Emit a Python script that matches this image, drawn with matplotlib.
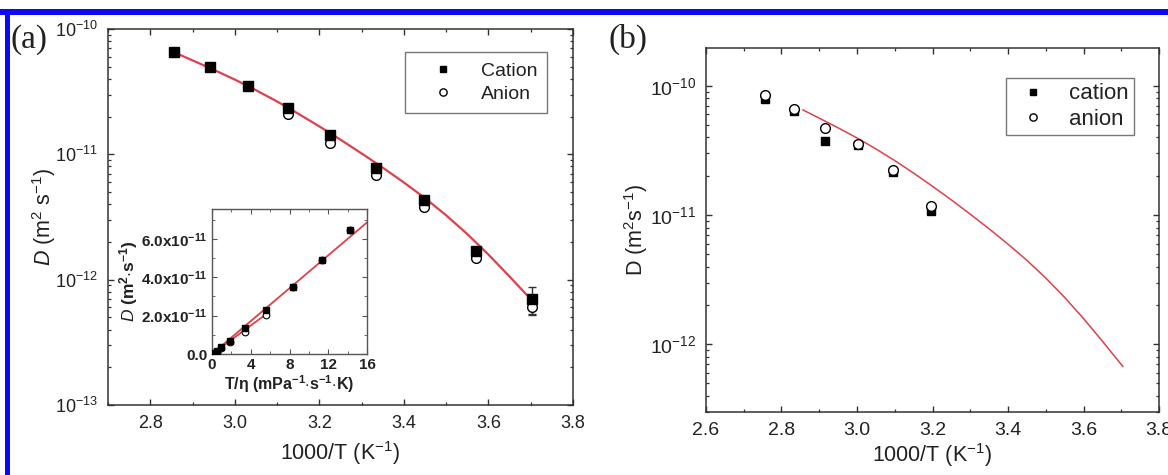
import matplotlib
matplotlib.use("Agg")
import matplotlib.pyplot as plt
from matplotlib.patches import Rectangle
from matplotlib.ticker import LogLocator, MultipleLocator, NullFormatter, FixedLocator, FixedFormatter

plt.rcParams['font.family'] = ['Liberation Sans', 'DejaVu Sans']
plt.rcParams['mathtext.fontset'] = 'custom'
plt.rcParams['mathtext.rm'] = 'Liberation Sans'
plt.rcParams['mathtext.it'] = 'Liberation Sans:italic'
plt.rcParams['mathtext.bf'] = 'Liberation Sans:bold'

# ---------------- data: panel (a) ----------------
a_x = [2.857, 2.941, 3.030, 3.125, 3.226, 3.333, 3.448, 3.571, 3.704]
a_cation = [6.50e-11, 4.96e-11, 3.53e-11, 2.36e-11, 1.42e-11, 7.82e-12, 4.33e-12, 1.70e-12, 7.05e-13]
a_anion = [6.50e-11, 4.96e-11, 3.53e-11, 2.11e-11, 1.23e-11, 6.82e-12, 3.78e-12, 1.50e-12, 6.08e-13]
a_cation_err = [0, 0, 0, 0, 0, 0, 0, 0, 1.68e-13]
a_anion_err = [0, 0, 0, 0, 0, 0, 0, 0, 0.81e-13]

# fitted curve
fit_x = [2.857, 2.90, 2.95, 3.00, 3.05, 3.10, 3.15, 3.20, 3.25, 3.30, 3.35,
         3.40, 3.45, 3.50, 3.55, 3.60, 3.65, 3.704]
fit_D = [6.50e-11, 5.62e-11, 4.73e-11, 3.95e-11, 3.25e-11, 2.64e-11, 2.11e-11, 1.67e-11,
         1.31e-11, 1.016e-11, 7.83e-12, 5.96e-12, 4.47e-12, 3.26e-12, 2.31e-12,
         1.585e-12, 1.059e-12, 6.76e-13]

# inset: D vs T/eta
ins_x = [14.24, 11.34, 8.31, 5.55, 3.38, 1.86, 0.93, 0.48, 0.24]
ins_cation = [6.44e-11, 4.89e-11, 3.50e-11, 2.31e-11, 1.37e-11, 6.9e-12, 3.5e-12, 1.4e-12, 5e-13]
ins_anion = [6.44e-11, 4.89e-11, 3.50e-11, 2.05e-11, 1.14e-11, 6.1e-12, 2.9e-12, 9e-13, 3e-13]
ins_fit_cat_x = [0.0, 16.0]
ins_fit_cat_y = [0.0, 6.85e-11]
ins_fit_an_x = [0.0, 5.8]
ins_fit_an_y = [0.0, 2.15e-11]
ins_yticks = [0.0, 2.0e-11, 4.0e-11, 6.0e-11]
ins_yticklabels = ['0.0', r'$\mathbf{2.0x10^{-11}}$', r'$\mathbf{4.0x10^{-11}}$', r'$\mathbf{6.0x10^{-11}}$']
ins_xticks = [0, 4, 8, 12, 16]

# ---------------- data: panel (b) ----------------
b_x = [2.755, 2.833, 2.915, 3.003, 3.096, 3.195]
b_cation = [7.94e-11, 6.33e-11, 3.72e-11, 3.46e-11, 2.14e-11, 1.08e-11]
b_anion = [8.53e-11, 6.60e-11, 4.74e-11, 3.55e-11, 2.25e-11, 1.18e-11]

W, H = 1168, 475
fig = plt.figure(figsize=(W / 100, H / 100), dpi=100)

def frac(l, t, r, b):
    return [l / W, 1 - b / H, (r - l) / W, (b - t) / H]

spine_c = '#333333'
txt_c = '#222222'
red = '#e0404a'

def style_axes(ax, fs):
    for s in ax.spines.values():
        s.set_color(spine_c)
        s.set_linewidth(1.1)
    ax.tick_params(which='both', direction='in', top=True, right=True,
                   colors=spine_c, labelcolor=txt_c, labelsize=fs)
    ax.tick_params(which='major', length=4.5, width=1.0, pad=7)
    ax.tick_params(which='minor', length=2.3, width=0.9)

# ---------- panel (a) ----------
axa = fig.add_axes(frac(108, 29, 573, 405))
axa.plot(fit_x, fit_D, '-', color=red, lw=1.6, zorder=2)
axa.errorbar(a_x, a_anion, yerr=a_anion_err, fmt='none', ecolor='#333333',
             elinewidth=1.0, capsize=3, zorder=3)
axa.errorbar(a_x, a_cation, yerr=a_cation_err, fmt='none', ecolor='#333333',
             elinewidth=1.0, capsize=3, zorder=3)
ha, = axa.plot(a_x, a_anion, 'o', ms=7, mfc='white', mec='black', mew=1.0, label='Anion', zorder=4)
hc, = axa.plot(a_x, a_cation, 's', ms=6.5, mfc='black', mec='black', label='Cation', zorder=5)
axa.set_yscale('log')
axa.set_xlim(2.7, 3.8)
axa.set_ylim(1e-13, 1e-10)
axa.xaxis.set_major_locator(MultipleLocator(0.2))
axa.xaxis.set_minor_locator(MultipleLocator(0.1))
axa.yaxis.set_major_locator(LogLocator(base=10, numticks=10))
axa.yaxis.set_minor_locator(LogLocator(base=10, subs=range(2, 10), numticks=20))
axa.yaxis.set_minor_formatter(NullFormatter())
style_axes(axa, 13)
axa.set_xlabel(r'1000/T (K$^{\mathregular{-1}}$)', fontsize=15.5, color=txt_c, labelpad=5)
axa.set_ylabel(r'$\it{D}$ (m$^{\mathregular{2}}$ s$^{\mathregular{-1}}$)', fontsize=15.5, color=txt_c, labelpad=-2)
leg = axa.legend([hc, ha], ['Cation', 'Anion'], loc='upper right', bbox_to_anchor=(0.944, 0.938),
                 fontsize=14, frameon=True, fancybox=False, edgecolor='#555555',
                 borderpad=0.5, handlelength=2.9, handletextpad=0.5, labelspacing=0.3,
                 markerscale=0.75, borderaxespad=0)
leg.get_frame().set_linewidth(1.0)
for t in leg.get_texts():
    t.set_color(txt_c)

# ---------- inset ----------
axi = fig.add_axes(frac(212, 209, 367, 354))
axi.plot(ins_fit_cat_x, ins_fit_cat_y, '-', color=red, lw=1.3, zorder=2)
axi.plot(ins_fit_an_x, ins_fit_an_y, '-', color=red, lw=1.3, zorder=2)
axi.plot(ins_x, ins_anion, 'o', ms=4.8, mfc='white', mec='black', mew=0.8, zorder=3)
axi.plot(ins_x, ins_cation, 's', ms=4.2, mfc='black', mec='black', zorder=4)
axi.set_xlim(0, 16)
axi.set_ylim(0, 7.55e-11)
axi.xaxis.set_major_locator(FixedLocator(ins_xticks))
axi.xaxis.set_minor_locator(MultipleLocator(2))
axi.yaxis.set_major_locator(FixedLocator(ins_yticks))
axi.yaxis.set_major_formatter(FixedFormatter(ins_yticklabels))
axi.yaxis.set_minor_locator(MultipleLocator(1e-11))
for s in axi.spines.values():
    s.set_color('#555555')
    s.set_linewidth(1.0)
axi.tick_params(which='both', direction='in', top=True, right=True, colors='#555555',
                labelcolor=txt_c, labelsize=11)
axi.tick_params(which='major', length=3.5, pad=3)
axi.tick_params(which='minor', length=2)
for t in axi.get_xticklabels() + axi.get_yticklabels():
    t.set_fontweight('bold')
axi.set_xlabel(r'T/$\mathbf{\eta}$ (mPa$^{\mathbf{-1}}$$\cdot$s$^{\mathbf{-1}}$$\cdot$K)',
               fontsize=11.5, fontweight='bold', color=txt_c, labelpad=1)
axi.set_ylabel(r'$\mathbf{\it{D}}$ (m$^{\mathbf{2}}$$\cdot$s$^{\mathbf{-1}}$)',
               fontsize=12.5, fontweight='bold', color=txt_c, labelpad=1)

# ---------- panel (b) ----------
axb = fig.add_axes(frac(706, 48, 1159, 412))
axb.plot(fit_x, fit_D, '-', color=red, lw=1.1, zorder=2)
hbc, = axb.plot(b_x, b_cation, 's', ms=6, mfc='black', mec='black', label='cation', zorder=3)
hba, = axb.plot(b_x, b_anion, 'o', ms=7, mfc='white', mec='black', mew=1.0, label='anion', zorder=4)
axb.set_yscale('log')
axb.set_xlim(2.6, 3.8)
axb.set_ylim(3.0e-13, 1.96e-10)
axb.xaxis.set_major_locator(MultipleLocator(0.2))
axb.xaxis.set_minor_locator(MultipleLocator(0.1))
axb.yaxis.set_major_locator(LogLocator(base=10, numticks=10))
axb.yaxis.set_minor_locator(LogLocator(base=10, subs=range(2, 10), numticks=20))
axb.yaxis.set_minor_formatter(NullFormatter())
style_axes(axb, 14)
axb.set_xlabel(r'1000/T (K$^{\mathregular{-1}}$)', fontsize=15.5, color=txt_c, labelpad=2)
axb.set_ylabel(r'D (m$^{\mathregular{2}}$s$^{\mathregular{-1}}$)', fontsize=15.5, color=txt_c, labelpad=0)
legb = axb.legend([hbc, hba], ['cation', 'anion'], loc='upper right', bbox_to_anchor=(0.945, 0.918),
                  fontsize=16, frameon=True, fancybox=False, edgecolor='#555555', borderpad=0.25,
                  handlelength=2.0, handletextpad=0.6, labelspacing=0.2,
                  markerscale=0.75, borderaxespad=0)
legb.get_frame().set_linewidth(1.0)
for t in legb.get_texts():
    t.set_color(txt_c)

# panel letters
fig.text(10 / W, 1 - 40 / H, '(a)', family='Liberation Serif', fontsize=24, color=txt_c, va='center')
fig.text(608 / W, 1 - 39 / H, '(b)', family='Liberation Serif', fontsize=24, color=txt_c, va='center')

# blue frame (top and left edges)
blue = '#0a0af5'
fig.add_artist(Rectangle((0, 1 - 15 / H), 1, 6 / H, transform=fig.transFigure,
                         facecolor=blue, edgecolor='none'))
fig.add_artist(Rectangle((5 / W, 0), 5 / W, 1 - 9 / H, transform=fig.transFigure,
                         facecolor=blue, edgecolor='none'))

fig.savefig('out.png', dpi=100)
